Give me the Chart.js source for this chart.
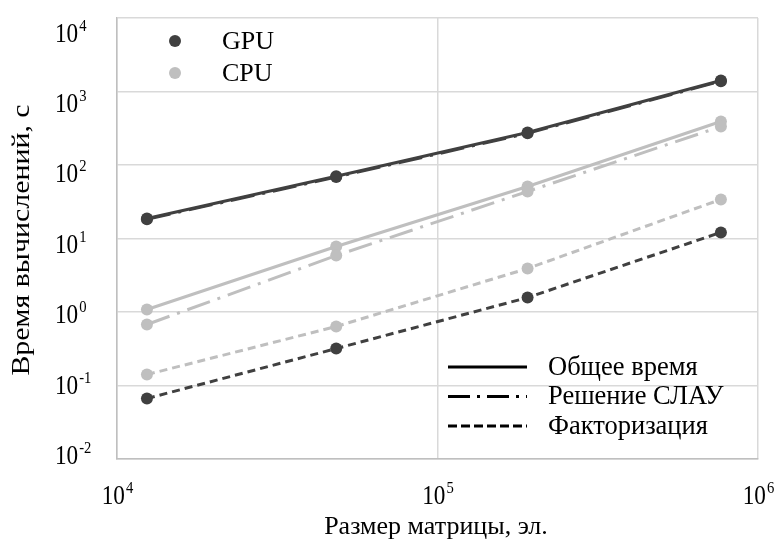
<!DOCTYPE html>
<html>
<head>
<meta charset="utf-8">
<script src="https://cdn.jsdelivr.net/npm/chart.js@4/dist/chart.umd.min.js"></script>
<style>
  html, body { margin: 0; padding: 0; background: #fff; }
  #wrap { width: 777px; height: 545px; }
</style>
</head>
<body>
<div id="wrap"><canvas id="chart"></canvas></div>
<script>
// размеры матриц (элементы)
var sizes = [12400, 48300, 191000, 766000];

// время, с
var gpuTotal  = [18.7, 70.4, 277, 1410];
var gpuSolve  = [18.3, 68.5, 270, 1380];
var gpuFactor = [0.0665, 0.318, 1.57, 12.1];
var cpuTotal  = [1.08, 7.78, 51, 391];
var cpuSolve  = [0.676, 5.87, 43.6, 334];
var cpuFactor = [0.141, 0.635, 3.91, 34];

var xTicks = [1e4, 1e5, 1e6];
var yTicks = [1e-2, 1e-1, 1e0, 1e1, 1e2, 1e3, 1e4];

var xTitle = 'Размер матрицы, эл.';
var yTitle = 'Время вычислений, с';
var deviceLabels = ['GPU', 'CPU'];
var styleLabels = ['Общее время', 'Решение СЛАУ', 'Факторизация'];

var DARK = '#404040', LIGHT = '#bfbfbf', GRID = '#d9d9d9';
var FONT = '"Liberation Serif", "Times New Roman", serif';
var DASH = [8, 5], DASHDOT = [24, 8, 3, 8];

function pts(ys) {
    return ys.map(function(v, i){ return {x: sizes[i], y: v}; });
}

function line(label, ys, color, dash) {
    return {
        label: label,
        data: pts(ys),
        borderColor: color,
        backgroundColor: color,
        pointBackgroundColor: color,
        pointBorderColor: color,
        borderWidth: 3,
        borderDash: dash,
        borderCapStyle: 'butt',
        pointRadius: 6,
        pointBorderWidth: 0,
        tension: 0
    };
}

// 10 + показатель степени (шрифт слегка сжат по горизонтали, как в оригинале)
function drawPow(ctx, x, y, exp, align) {
    var k = 0.86;
    ctx.font = '27px ' + FONT;
    var w10 = ctx.measureText('10').width * k;
    ctx.font = '17px ' + FONT;
    var we = ctx.measureText(exp).width * k;
    var x0 = align === 'center' ? x - (w10 + we) / 2 : x;
    ctx.save();
    ctx.translate(x0, y);
    ctx.scale(k, 1);
    ctx.textBaseline = 'alphabetic';
    ctx.textAlign = 'left';
    ctx.font = '27px ' + FONT;
    ctx.fillText('10', 0, 0);
    ctx.font = '17px ' + FONT;
    ctx.fillText(exp, (w10 + 1) / k, -11);
    ctx.restore();
}

var decor = {
    id: 'decor',
    afterDraw: function(chart) {
        var ctx = chart.ctx;
        var xs = chart.scales.x, ys = chart.scales.y;
        ctx.save();
        ctx.fillStyle = '#000';

        // подписи делений
        xTicks.forEach(function(v){
            drawPow(ctx, xs.getPixelForValue(v), 504, String(Math.round(Math.log10(v))), 'center');
        });
        var yTop = ys.getPixelForValue(1e4), yBot = ys.getPixelForValue(1e-2);
        yTicks.forEach(function(v){
            var p = ys.getPixelForValue(v);
            var c = 32.5 + (p - yTop) * (455 - 32.5) / (yBot - yTop);
            var e = Math.round(Math.log10(v));
            drawPow(ctx, 55, c + 9, e < 0 ? '-' + (-e) : String(e), 'left');
        });

        // заголовки осей
        ctx.font = '26px ' + FONT;
        ctx.textAlign = 'center';
        ctx.textBaseline = 'middle';
        ctx.fillText(xTitle, 436, 527);
        ctx.save();
        ctx.translate(22, 240);
        ctx.rotate(-Math.PI / 2);
        ctx.scale(1.15, 1);
        ctx.fillText(yTitle, 0, 0);
        ctx.restore();

        // легенда: устройства
        ctx.textAlign = 'left';
        [DARK, LIGHT].forEach(function(c, i){
            var y = 41 + i * 32;
            ctx.fillStyle = c;
            ctx.beginPath();
            ctx.arc(175, y, 6, 0, Math.PI * 2);
            ctx.fill();
            ctx.fillStyle = '#000';
            ctx.fillText(deviceLabels[i], 222, y + 1);
        });

        // легенда: тип линии
        ctx.font = '26.5px ' + FONT;
        [[], [22, 7, 3, 7], [9, 4]].forEach(function(d, i){
            var y = 367 + i * 29.5;
            ctx.strokeStyle = '#000';
            ctx.lineWidth = 3;
            ctx.lineCap = 'butt';
            ctx.setLineDash(d);
            ctx.beginPath();
            ctx.moveTo(448, y);
            ctx.lineTo(527, y);
            ctx.stroke();
            ctx.setLineDash([]);
            ctx.fillText(styleLabels[i], 548, y + 1);
        });
        ctx.restore();
    }
};

function decades(list) {
    return function(scale){ scale.ticks = list.map(function(v){ return {value: v}; }); };
}

new Chart(document.getElementById('chart'), {
    type: 'line',
    data: {
        datasets: [
            line('GPU факторизация', gpuFactor, DARK, DASH),
            line('CPU факторизация', cpuFactor, LIGHT, DASH),
            line('CPU решение', cpuSolve, LIGHT, DASHDOT),
            line('CPU общее', cpuTotal, LIGHT, []),
            line('GPU решение', gpuSolve, DARK, DASHDOT),
            line('GPU общее', gpuTotal, DARK, [])
        ]
    },
    options: {
        responsive: true,
        maintainAspectRatio: false,
        animation: false,
        layout: { padding: { left: 117, right: 19, top: 18, bottom: 86 } },
        plugins: {
            legend: { display: false },
            tooltip: { enabled: false }
        },
        scales: {
            x: {
                type: 'logarithmic',
                min: 1e4, max: 1e6,
                afterBuildTicks: decades(xTicks),
                ticks: { display: false },
                grid: { color: GRID, lineWidth: 1.5, drawTicks: false, tickLength: 0 },
                border: { color: LIGHT, width: 1.5 }
            },
            y: {
                type: 'logarithmic',
                min: 1e-2, max: 1e4,
                afterBuildTicks: decades(yTicks),
                ticks: { display: false },
                grid: { color: GRID, lineWidth: 1.5, drawTicks: false, tickLength: 0 },
                border: { color: LIGHT, width: 1.5 }
            }
        }
    },
    plugins: [decor]
});
</script>
</body>
</html>
